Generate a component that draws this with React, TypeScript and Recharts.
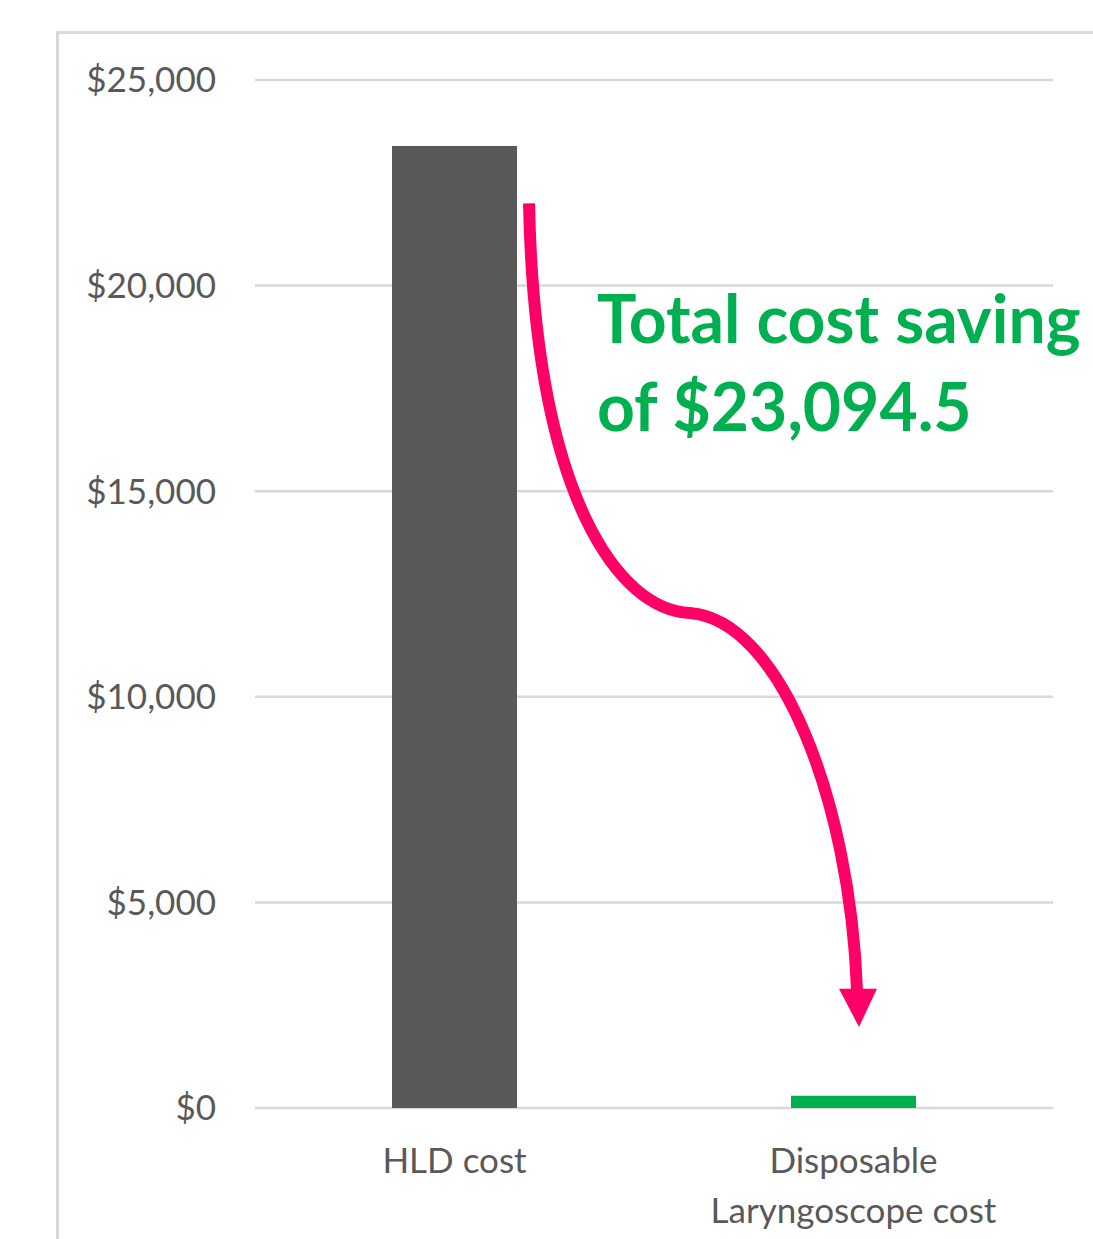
import React from "react";
import {
  ComposedChart,
  Bar,
  Cell,
  XAxis,
  YAxis,
  CartesianGrid,
  ReferenceArea,
} from "recharts";

const categories = ["HLD cost", "Disposable Laryngoscope cost"];
const costs = [23394.5, 300];
const barColors = ["#595959", "#00B050"];
const tickLines = [["HLD cost"], ["Disposable", "Laryngoscope cost"]];
const yTicks = [0, 5000, 10000, 15000, 20000, 25000];
const savingText = ["Total cost saving", "of $23,094.5"];

// arrow anchors: [fraction across plot, value on y axis]
const arrowPath = [
  [0.3434, 22000],
  [0.3509, 14786],
  [0.4574, 12111],
  [0.5451, 12038],
  [0.6579, 11868],
  [0.7456, 7490],
  [0.7544, 2870],
];
const arrowHead = [
  [0.7318, 2900],
  [0.7794, 2900],
  [0.7569, 1970],
];
const textAnchor = [0.4286, 18604, 16470];

const data = categories.map((name, i) => ({ name, cost: costs[i] }));
const yMax = yTicks[yTicks.length - 1];
const FONT = "Lato, 'Open Sans', sans-serif";

const money = (v: number) => "$" + v.toLocaleString("en-US");

function CategoryTick(props: any) {
  const { x, y, index } = props;
  const lines = tickLines[index] || [];
  return (
    <g>
      {lines.map((l, i) => (
        <text
          key={i}
          x={x}
          y={y + 65 + i * 50}
          textAnchor="middle"
          fill="#595959"
          fontSize={35}
          fontFamily={FONT}
        >
          {l}
        </text>
      ))}
    </g>
  );
}

function Annotation(props: any) {
  const { x, y, width, height } = props;
  const px = (f: number) => x + f * width;
  const py = (v: number) => y + height * (1 - v / yMax);
  const p = arrowPath.map(([f, v]) => [px(f), py(v)]);
  const d = `M ${p[0][0]} ${p[0][1]} C ${p[1][0]} ${p[1][1]}, ${p[2][0]} ${p[2][1]}, ${p[3][0]} ${p[3][1]} C ${p[4][0]} ${p[4][1]}, ${p[5][0]} ${p[5][1]}, ${p[6][0]} ${p[6][1]}`;
  const head = arrowHead.map(([f, v]) => `${px(f)},${py(v)}`).join(" ");
  return (
    <g>
      <path d={d} fill="none" stroke="#FF0066" strokeWidth={12} />
      <polygon points={head} fill="#FF0066" />
      {savingText.map((t, i) => (
        <text
          key={i}
          x={px(textAnchor[0])}
          y={py(textAnchor[1 + i])}
          fill="#00B050"
          fontSize={66}
          fontWeight={700}
          fontFamily={FONT}
        >
          {t}
        </text>
      ))}
    </g>
  );
}

export default function App() {
  return (
    <div
      style={{
        position: "absolute",
        left: 0,
        top: 0,
        width: 1093,
        height: 1239,
        overflow: "hidden",
        background: "#fff",
      }}
    >
      <div
        style={{
          position: "absolute",
          left: 56,
          top: 31,
          width: 1200,
          height: 1400,
          borderLeft: "3px solid #d9d9d9",
          borderTop: "3px solid #d9d9d9",
        }}
      />
      <div style={{ position: "absolute", left: 0, top: 0 }}>
        <ComposedChart
          width={1093}
          height={1239}
          data={data}
          margin={{ top: 80, right: 40, left: 0, bottom: 0 }}
        >
          <CartesianGrid
            vertical={false}
            stroke="#d9d9d9"
            strokeWidth={2.5}
          />
          <XAxis
            dataKey="name"
            height={131}
            axisLine={false}
            tickLine={false}
            tickSize={0}
            tickMargin={0}
            tick={<CategoryTick />}
            interval={0}
          />
          <YAxis
            width={255}
            domain={[0, yMax]}
            ticks={yTicks}
            tickFormatter={money}
            axisLine={false}
            tickLine={false}
            tickSize={0}
            tickMargin={39}
            tick={{ fill: "#595959", fontSize: 35, fontFamily: FONT }}
          />
          <Bar dataKey="cost" barSize={125} isAnimationActive={false}>
            {data.map((d, i) => (
              <Cell key={d.name} fill={barColors[i]} />
            ))}
          </Bar>
          <ReferenceArea
            x1={categories[0]}
            x2={categories[1]}
            y1={0}
            y2={yMax}
            shape={<Annotation />}
            ifOverflow="visible"
          />
        </ComposedChart>
      </div>
    </div>
  );
}
